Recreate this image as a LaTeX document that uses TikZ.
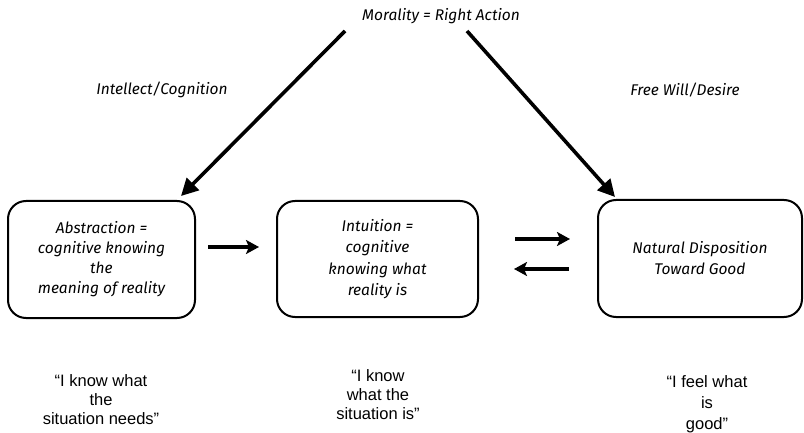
\documentclass[tikz,border=0pt]{standalone}
\usepackage{fontspec}
\setmainfont{Fira Sans}
\newfontfamily\quotefont{Liberation Sans}
\usetikzlibrary{arrows.meta}
\begin{document}
\begin{tikzpicture}[x=1pt,y=-1pt,
  box/.style={draw,line width=2pt,rounded corners=18pt,align=center,
    font=\fontsize{15.5}{20}\selectfont\itshape},
  lbl/.style={font=\fontsize{15.5}{18}\selectfont\itshape},
  quote/.style={align=center,font=\fontsize{16.5}{19}\selectfont\quotefont},
  bigarrow/.style={line width=3.6pt,-{Triangle[length=17pt,width=17pt]}},
  smallarrow/.style={line width=3.2pt,-{Stealth[length=13pt,width=14pt,inset=3pt]}}]
\useasboundingbox (0,0) rectangle (804,433);
\node[lbl] (title) at (441,16) {Morality = Right Action};
\node[lbl] (ic) at (162,90) {Intellect/Cognition};
\node[lbl] (fw) at (685,90) {Free Will/Desire};
\node[box,minimum width=187pt,minimum height=117pt] (L) at (101.5,259.5)
  {Abstraction =\\cognitive knowing\\the\\meaning of reality};
\node[box,minimum width=201pt,minimum height=116pt,font=\fontsize{15.5}{21.5}\selectfont\itshape] (M) at (377.5,259)
  {Intuition =\\cognitive\\knowing what\\reality is};
\node[box,minimum width=204pt,minimum height=117pt,font=\fontsize{15.5}{21}\selectfont\itshape] (R) at (700,258.5)
  {Natural Disposition\\Toward Good};
\node[quote] (qL) at (101,400) {“I know what\\the\\situation needs”};
\node[quote] (qM) at (378,395) {“I know\\what the\\situation is”};
\node[quote,font=\fontsize{16.5}{21}\selectfont\quotefont] (qR) at (707,404) {“I feel what\\is\\good”};
\coordinate (t1) at (345,31);
\coordinate (t2) at (467,31);
\coordinate (e1) at (181,196);
\coordinate (e2) at (615,197);
\draw[bigarrow] (t1) -- (e1);
\draw[bigarrow] (t2) -- (e2);
\coordinate (a1) at (208,247);
\coordinate (a2) at (259,247);
\draw[smallarrow] (a1) -- (a2);
\coordinate (b1) at (515,239);
\coordinate (b2) at (570,239);
\draw[smallarrow] (b1) -- (b2);
\coordinate (c1) at (569,269);
\coordinate (c2) at (514,269);
\draw[smallarrow] (c1) -- (c2);
\end{tikzpicture}
\end{document}
